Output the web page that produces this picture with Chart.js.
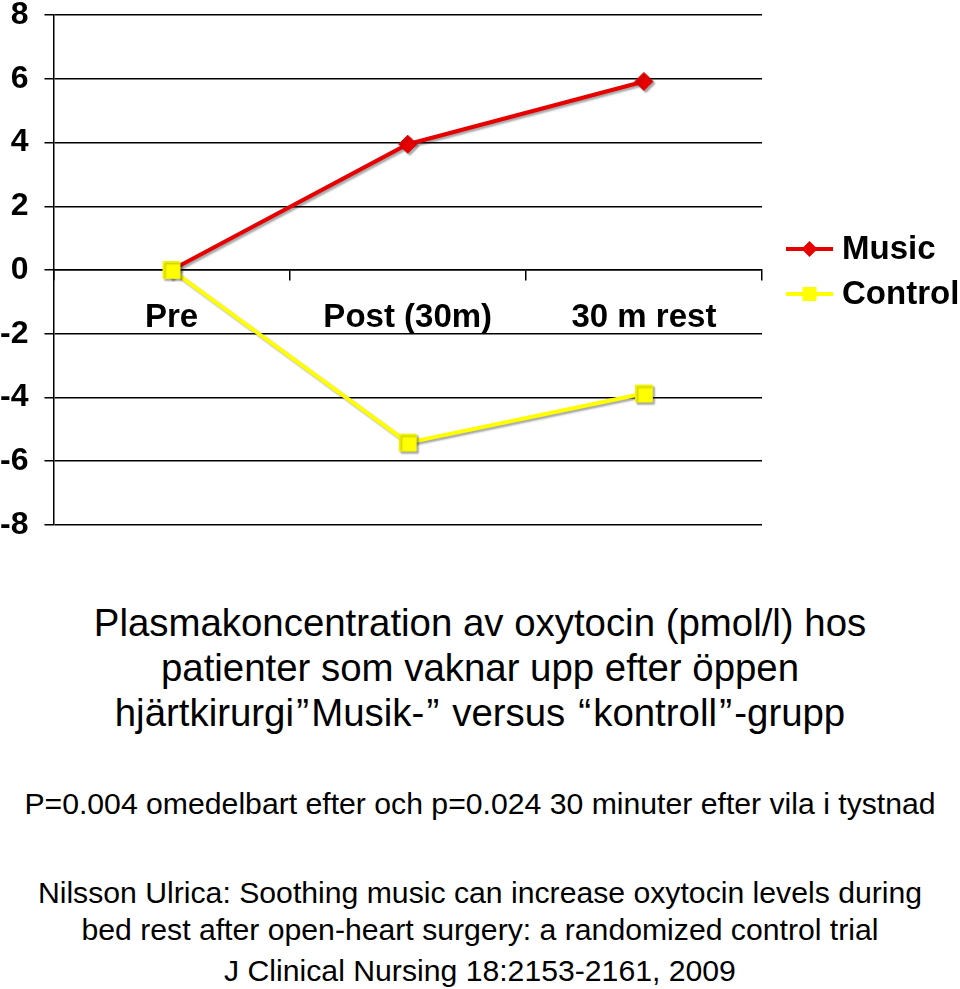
<!DOCTYPE html>
<html>
<head>
<meta charset="utf-8">
<script src="https://cdn.jsdelivr.net/npm/chart.js@4"></script>
<style>
  html, body { margin: 0; padding: 0; background: #fff; }
  body { width: 960px; height: 989px; position: relative; overflow: hidden; font-family: "Liberation Sans", Arial, sans-serif; color: #000; }
  #wrap { position: absolute; left: 0; top: 0; width: 960px; height: 540px; }
  .t { position: absolute; left: 0; width: 960px; text-align: center; white-space: nowrap; }
  .title { font-size: 38.4px; line-height: 45px; }
  .small { font-size: 30.2px; line-height: 36px; }
  .q { display: inline-block; width: 0.45em; text-align: center; }
</style>
</head>
<body>
<div id="wrap"><canvas id="c" width="960" height="540"></canvas></div>
<div class="t title" style="top:600px">Plasmakoncentration av oxytocin (pmol/l) hos</div>
<div class="t title" style="top:645px">patienter som vaknar upp efter öppen</div>
<div class="t title" style="top:690px">hjärtkirurgi<span class="q">”</span>Musik-<span class="q">”</span> versus <span class="q">“</span>kontroll<span class="q">”</span>-grupp</div>
<div class="t small" style="top:786px">P=0.004 omedelbart efter och p=0.024 30 minuter efter vila i tystnad</div>
<div class="t small" style="top:875px">Nilsson Ulrica: Soothing music can increase oxytocin levels during</div>
<div class="t small" style="top:912px">bed rest after open-heart surgery: a randomized control trial</div>
<div class="t small" style="top:953px">J Clinical Nursing 18:2153-2161, 2009</div>
<script>
const categories = ['Pre', 'Post (30m)', '30 m rest'];
const seriesNames = ['Music', 'Control'];
const musicValues = [0, 3.95, 5.92];
const controlValues = [0, -5.42, -3.88];
const yMin = -8;
const yMax = 8;
const yStep = 2;

const FONT = '"Liberation Sans", Arial, sans-serif';

const shadowPlugin = {
  id: 'shadow',
  beforeDatasetsDraw(chart) {
    const ctx = chart.ctx;
    ctx.save();
    ctx.shadowColor = 'rgba(0,0,0,0.35)';
    ctx.shadowOffsetX = 2;
    ctx.shadowOffsetY = 2;
    ctx.shadowBlur = 2;
  },
  afterDatasetsDraw(chart) {
    chart.ctx.restore();
  }
};

const legendPlugin = {
  id: 'sideLegend',
  afterDraw(chart) {
    const ctx = chart.ctx;
    const area = chart.chartArea;
    const x0 = area.right + 24;
    const lineLen = 47;
    const yStart = 249;
    const gap = 45;
    chart.data.datasets.forEach((ds, i) => {
      const y = yStart + i * gap;
      ctx.save();
      ctx.strokeStyle = ds.borderColor;
      ctx.lineWidth = 4;
      ctx.beginPath();
      ctx.moveTo(x0, y);
      ctx.lineTo(x0 + lineLen, y);
      ctx.stroke();
      const cx = x0 + lineLen / 2;
      ctx.fillStyle = ds.pointBackgroundColor;
      ctx.beginPath();
      if (ds.pointStyle === 'rectRot') {
        const r = 8;
        ctx.moveTo(cx, y - r); ctx.lineTo(cx + r, y); ctx.lineTo(cx, y + r); ctx.lineTo(cx - r, y); ctx.closePath();
      } else {
        const h = 7;
        ctx.rect(cx - h, y - h, 2 * h, 2 * h);
      }
      ctx.fill();
      ctx.fillStyle = '#000';
      ctx.font = 'bold 33px ' + FONT;
      ctx.textBaseline = 'middle';
      ctx.textAlign = 'left';
      ctx.fillText(ds.label, x0 + lineLen + 9, y + 1);
      ctx.restore();
    });
  }
};

new Chart(document.getElementById('c'), {
  type: 'line',
  data: {
    labels: categories,
    datasets: [
      {
        label: seriesNames[0],
        data: musicValues,
        borderColor: '#e60000',
        backgroundColor: '#e60000',
        pointBackgroundColor: '#e60000',
        pointBorderColor: '#e60000',
        pointStyle: 'rectRot',
        pointRadius: 9,
        pointBorderWidth: 1,
        borderWidth: 4,
        tension: 0,
        order: 2
      },
      {
        label: seriesNames[1],
        data: controlValues,
        borderColor: '#ffff00',
        backgroundColor: '#ffff00',
        pointBackgroundColor: '#ffff00',
        pointBorderColor: '#f0f000',
        pointStyle: 'rect',
        pointRadius: 12,
        pointBorderWidth: 1,
        borderWidth: 4,
        tension: 0,
        order: 1
      }
    ]
  },
  options: {
    responsive: false,
    animation: false,
    devicePixelRatio: 1,
    layout: { padding: { left: 0, right: 198, top: 0, bottom: 0 } },
    plugins: {
      legend: { display: false },
      tooltip: { enabled: false },
      title: { display: false }
    },
    scales: {
      x: {
        type: 'category',
        position: { y: 0 },
        offset: true,
        grid: {
          offset: true,
          drawOnChartArea: false,
          drawTicks: true,
          tickLength: 10,
          color: '#000',
          lineWidth: 1.5
        },
        border: { display: true, color: '#000', width: 1.5 },
        ticks: {
          color: '#000',
          font: { family: FONT, size: 33, weight: 'bold', lineHeight: 2.3 },
          padding: 0,
          maxRotation: 0,
          autoSkip: false
        }
      },
      y: {
        min: yMin,
        max: yMax,
        grid: {
          color: '#000',
          lineWidth: 1.5,
          tickLength: 25,
          drawTicks: true,
          tickBorderDash: [0, 16, 9, 100]
        },
        border: { display: true, color: '#000', width: 1.5 },
        ticks: {
          stepSize: yStep,
          color: '#000',
          font: { family: FONT, size: 32, weight: 'bold', lineHeight: 0.95 },
          padding: 0,
          autoSkip: false,
          callback: (v) => String(v)
        }
      }
    }
  },
  plugins: [shadowPlugin, legendPlugin]
});
</script>
</body>
</html>
